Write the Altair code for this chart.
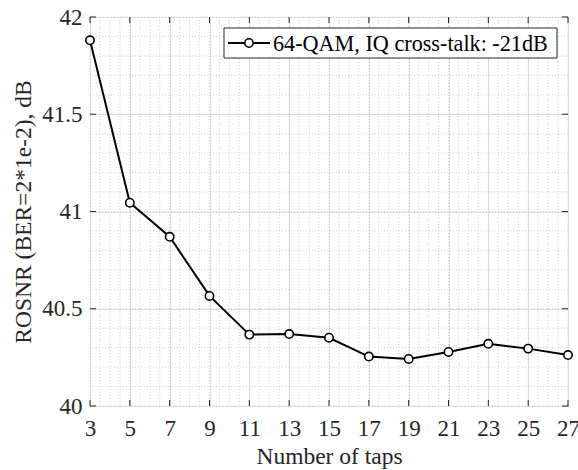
import altair as alt
import pandas as pd

taps = [3, 5, 7, 9, 11, 13, 15, 17, 19, 21, 23, 25, 27]
rosnr = [41.88, 41.045, 40.87, 40.566, 40.367, 40.37, 40.351, 40.254, 40.242, 40.278, 40.32, 40.295, 40.262]
x_ticks = [3, 5, 7, 9, 11, 13, 15, 17, 19, 21, 23, 25, 27]
y_ticks = [40, 40.5, 41, 41.5, 42]
x_minor = [3 + 0.5 * i for i in range(49)]
y_minor = [round(40 + 0.1 * i, 1) for i in range(21)]
legend_label = "64-QAM, IQ cross-talk: -21dB"
x_title = "Number of taps"
y_title = "ROSNR (BER=2*1e-2), dB"

W, H = 478, 389
FONT = "Liberation Serif"
AX = "#262626"

df = pd.DataFrame({"taps": taps, "rosnr": rosnr})
xs = alt.Scale(domain=[3, 27], nice=False, zero=False)
ys = alt.Scale(domain=[40, 42], nice=False, zero=False)
x_axis = alt.Axis(values=x_ticks, grid=True, ticks=False, domain=False,
                  labelFlush=False, labelPadding=11, titlePadding=4)
y_axis = alt.Axis(values=y_ticks, grid=True, ticks=False, domain=False,
                  labelFlush=False, labelPadding=8, titlePadding=6,
                  labelExpr="format(datum.value, '~g')")


def X(field):
    return alt.X(field, scale=xs, title=x_title, axis=x_axis)


def Y(field):
    return alt.Y(field, scale=ys, title=y_title, axis=y_axis)


minor_x = alt.Chart(pd.DataFrame({"v": x_minor})).mark_rule(
    color="#c8c8c8", strokeWidth=0.8, strokeDash=[1, 2]
).encode(x=X("v:Q"))
minor_y = alt.Chart(pd.DataFrame({"v": y_minor})).mark_rule(
    color="#c8c8c8", strokeWidth=0.8, strokeDash=[1, 2]
).encode(y=Y("v:Q"))

xt = pd.DataFrame({"v": x_ticks})
yt = pd.DataFrame({"v": y_ticks})
tick_b = alt.Chart(xt).mark_rule(color=AX, strokeWidth=1).encode(
    x=X("v:Q"), y=alt.value(H), y2=alt.value(H - 6))
tick_t = alt.Chart(xt).mark_rule(color=AX, strokeWidth=1).encode(
    x=X("v:Q"), y=alt.value(0), y2=alt.value(6))
tick_l = alt.Chart(yt).mark_rule(color=AX, strokeWidth=1).encode(
    y=Y("v:Q"), x=alt.value(0), x2=alt.value(6))
tick_r = alt.Chart(yt).mark_rule(color=AX, strokeWidth=1).encode(
    y=Y("v:Q"), x=alt.value(W), x2=alt.value(W - 6))

base = alt.Chart(df).encode(x=X("taps:Q"), y=Y("rosnr:Q"))
line = base.mark_line(color="black", strokeWidth=2)
pts = base.mark_point(shape="circle", filled=True, fill="white", stroke="black",
                      strokeWidth=1.6, size=70, opacity=1)

ldf = pd.DataFrame({"label": [legend_label]})
lg_box = alt.Chart(ldf).mark_rect(fill="white", stroke=AX, strokeWidth=1).encode(
    x=alt.value(134), x2=alt.value(467), y=alt.value(11), y2=alt.value(41))
lg_line = alt.Chart(ldf).mark_rule(color="black", strokeWidth=2).encode(
    x=alt.value(138), x2=alt.value(180), y=alt.value(26))
lg_pt = alt.Chart(ldf).mark_point(shape="circle", filled=True, fill="white", stroke="black",
                                  strokeWidth=1.6, size=70, opacity=1).encode(
    x=alt.value(159), y=alt.value(26))
lg_txt = alt.Chart(ldf).mark_text(font=FONT, fontSize=22.2, align="left", baseline="middle",
                                  color="black").encode(
    x=alt.value(183), y=alt.value(27), text="label:N")

chart = alt.layer(
    minor_x, minor_y, line, pts, tick_b, tick_t, tick_l, tick_r,
    lg_box, lg_line, lg_pt, lg_txt
).properties(
    width=W, height=H,
    autosize=alt.AutoSizeParams(type="none"),
    padding={"left": 90, "top": 17, "right": 10, "bottom": 64},
    background="white",
).configure_view(
    stroke=AX, strokeWidth=1
).configure_axis(
    labelFont=FONT, titleFont=FONT, labelFontSize=23, titleFontSize=23.5,
    labelColor=AX, titleColor=AX, titleFontWeight="normal",
    gridColor="#dedede", gridWidth=1,
)

chart.save("out.html", embed_options={"renderer": "svg", "actions": False})
